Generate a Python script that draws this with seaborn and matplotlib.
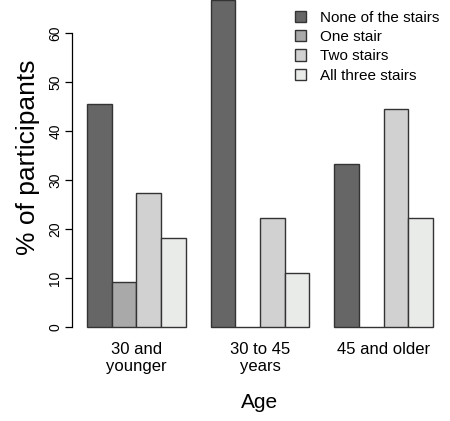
import seaborn as sns
import matplotlib.pyplot as plt
import pandas as pd

age_groups = ["30 and\nyounger", "30 to 45\nyears", "45 and older"]
responses = ["None of the stairs", "One stair", "Two stairs", "All three stairs"]
none_pct = [45.45, 66.67, 33.33]
one_pct = [9.09, 0.0, 0.0]
two_pct = [27.27, 22.22, 44.44]
all_pct = [18.18, 11.11, 22.22]
grey_shades = ["#666666", "#a9a9a9", "#d1d1d1", "#e9ebe9"]

rows = []
for i, age in enumerate(age_groups):
    for resp, vals in zip(responses, [none_pct, one_pct, two_pct, all_pct]):
        rows.append((age, resp, vals[i]))
df = pd.DataFrame(rows, columns=["age", "response", "percent"])

sns.set_style("white")
plt.rcParams['font.family'] = ['Liberation Sans', 'DejaVu Sans']
plt.rcParams['text.color'] = 'black'
plt.rcParams['xtick.color'] = 'black'
plt.rcParams['ytick.color'] = 'black'
plt.rcParams['axes.labelcolor'] = 'black'

fig = plt.figure(figsize=(4.5, 4.21), dpi=100)
# y=0 sits at 327 px from the top, 4.9 px per percent
ax = fig.add_axes([72 / 450, 94 / 421, 376 / 450, 339.7 / 421])
sns.barplot(data=df, x="age", y="percent", hue="response", order=age_groups,
            hue_order=responses, palette=grey_shades, width=0.8,
            edgecolor="#333333", linewidth=1, saturation=1, ax=ax)
for p in ax.patches:
    p.set_clip_on(False)

ax.set_xlim(-0.52, 2.52)
ax.set_ylim(0, 69.33)
for s in ["top", "right", "bottom"]:
    ax.spines[s].set_visible(False)
ax.spines["left"].set_bounds(0, 60)
ax.spines["left"].set_color("black")
ax.spines["left"].set_linewidth(0.9)
ax.set_yticks([0, 10, 20, 30, 40, 50, 60])
ax.tick_params(axis="y", left=True, length=5, width=0.9, labelsize=10, pad=2)
for lab in ax.get_yticklabels():
    lab.set_rotation(90)
    lab.set_va("center")
ax.tick_params(axis="x", bottom=False, labelsize=12, pad=7)
ax.set_xlabel("Age", fontsize=15, labelpad=14)
ax.set_ylabel("% of participants", fontsize=19, labelpad=6)

ax.legend(loc="upper right", bbox_to_anchor=(450 / 450, 421 / 421),
          bbox_transform=fig.transFigure, frameon=False, fontsize=11,
          handlelength=0.75, handleheight=0.75, handletextpad=0.9,
          labelspacing=0.35, borderaxespad=0.3)

fig.savefig("out.png", dpi=100)
